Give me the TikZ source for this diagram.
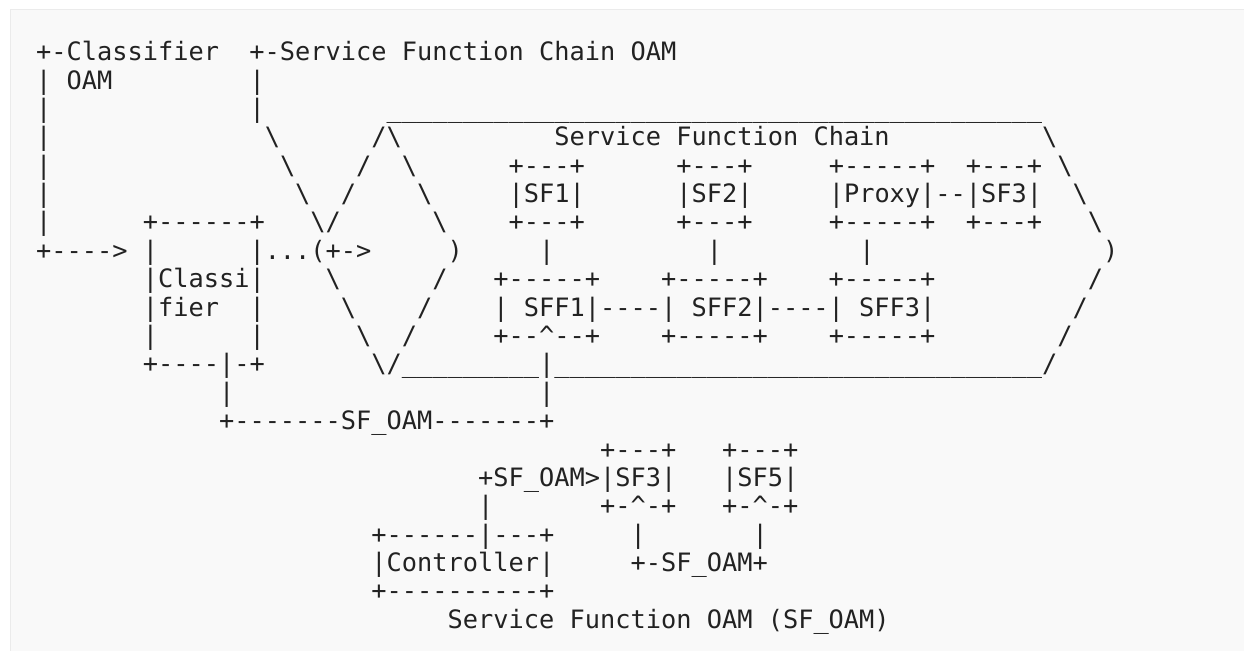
\documentclass[tikz,border=0pt]{standalone}
\usepackage{fontspec}
\setmonofont{DejaVu Sans Mono}
\usetikzlibrary{positioning}
\definecolor{ink}{HTML}{222222}
\definecolor{paper}{HTML}{F9F9F9}
\definecolor{frame}{HTML}{EBEBEB}

\begin{document}
\begin{tikzpicture}[% one px of the reference is one unit, y runs downwards
			x=0.5pt,y=-0.5pt,
			every node/.style={
				anchor=base west,	% each row starts at the left edge of column 0
				inner sep=0pt,
				text=ink,
				font=\fontsize{12.66pt}{14.2pt}\selectfont
			}
		]
		\useasboundingbox (0,0) rectangle (1244,651);
		\fill[white] (0,0) rectangle (1244,651);
		\filldraw[fill=paper,draw=frame] (10.5,9.5) rectangle (1260,670);
		% the figure, row by row
		\node(L1) at (35.7,60.7) {\verb!+-Classifier  +-Service Function Chain OAM!};
		\node(L2) at (35.7,89.08) {\verb!| OAM         |!};
		\node(L3) at (35.7,117.46) {\verb!|             |        ___________________________________________!};
		\node(L4) at (35.7,145.84) {\verb!|              \      /\          Service Function Chain          \!};
		\node(L5) at (35.7,174.22) {\verb!|               \    /  \      +---+      +---+     +-----+  +---+ \!};
		\node(L6) at (35.7,202.6) {\verb!|                \  /    \     |SF1|      |SF2|     |Proxy|--|SF3|  \!};
		\node(L7) at (35.7,230.98) {\verb!|      +------+   \/      \    +---+      +---+     +-----+  +---+   \!};
		\node(L8) at (35.7,259.36) {\verb!+----> |      |...(+->     )     |          |         |               )!};
		\node(L9) at (35.7,287.74) {\verb!       |Classi|    \      /   +-----+    +-----+    +-----+          /!};
		\node(L10) at (35.7,316.12) {\verb!       |fier  |     \    /    | SFF1|----| SFF2|----| SFF3|         /!};
		\node(L11) at (35.7,344.5) {\verb!       |      |      \  /     +--^--+    +-----+    +-----+        /!};
		\node(L12) at (35.7,372.88) {\verb!       +----|-+       \/_________|________________________________/!};
		\node(L13) at (35.7,401.26) {\verb!            |                    |!};
		\node(L14) at (35.7,429.64) {\verb!            +-------SF_OAM-------+!};
		\node(L15) at (35.7,458.02) {\verb!                                     +---+   +---+!};
		\node(L16) at (35.7,486.4) {\verb!                             +SF_OAM>|SF3|   |SF5|!};
		\node(L17) at (35.7,514.78) {\verb!                             |       +-^-+   +-^-+!};
		\node(L18) at (35.7,543.16) {\verb!                      +------|---+     |       |!};
		\node(L19) at (35.7,571.54) {\verb!                      |Controller|     +-SF_OAM+!};
		\node(L20) at (35.7,599.92) {\verb!                      +----------+!};
		\node(L21) at (35.7,628.3) {\verb!                           Service Function OAM (SF_OAM)!};
	\end{tikzpicture}
\end{document}
